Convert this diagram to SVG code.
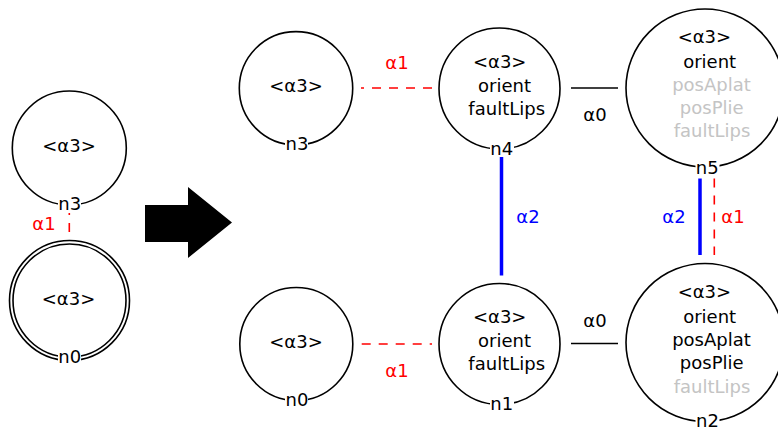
<svg xmlns="http://www.w3.org/2000/svg" width="778" height="430" viewBox="0 0 778 430">
<style>
text{font-family:"DejaVu Sans","Liberation Sans",sans-serif;font-size:18px;text-anchor:middle;fill:#000}
.c{fill:none;stroke:#000;stroke-width:1.6}
.g{fill:#c4c4c4}
.r{fill:#ff0000}
.b{fill:#0000ff}
.lb{fill:#fff}
.e0{stroke:#000;stroke-width:1.6;fill:none}
.e1{stroke:#ff0000;stroke-width:1.6;stroke-dasharray:9 8;fill:none}
.e2{stroke:#0000ff;stroke-width:3.5;fill:none}
</style>
<rect width="778" height="430" fill="#fff"/>
<polygon points="145,205 188,205 188,187 232,222.5 188,258 188,242 145,242" fill="#000"/>
<g id="connectors">
<line class="e1" x1="69.3" y1="232" x2="69.3" y2="213"/>
<text class="r" x="44" y="230">α1</text>
<line class="e1" x1="432" y1="88" x2="361" y2="88"/>
<text class="r" x="397" y="69">α1</text>
<line class="e1" x1="361.7" y1="344" x2="432" y2="344"/>
<text class="r" x="397" y="377">α1</text>
<line class="e2" x1="501.5" y1="157" x2="501.5" y2="275.5"/>
<text class="b" x="528" y="223">α2</text>
<line class="e0" x1="571" y1="88" x2="618" y2="88"/>
<text x="595" y="121">α0</text>
<line class="e0" x1="571" y1="343.5" x2="618" y2="343.5"/>
<text x="595" y="327">α0</text>
<line class="e2" x1="700" y1="178.5" x2="700" y2="255"/>
<text class="b" x="674" y="223">α2</text>
<line class="e1" x1="714.3" y1="178.5" x2="714.3" y2="255"/>
<text class="r" x="733" y="223">α1</text>
</g>
<g id="L_n3">
<circle class="c" cx="69.3" cy="148" r="57"/>
<text x="69" y="152">&lt;α3&gt;</text>
<rect class="lb" x="58" y="197" width="23" height="13"/>
<text x="69.7" y="209.5">n3</text>
</g>
<g id="L_n0">
<circle class="c" cx="69.5" cy="300.5" r="60"/>
<circle class="c" cx="69.5" cy="300.5" r="56.5"/>
<text x="68.5" y="305">&lt;α3&gt;</text>
<rect class="lb" x="58" y="351" width="23" height="13"/>
<text x="69.7" y="363">n0</text>
</g>
<g id="n3">
<circle class="c" cx="296" cy="88.3" r="56.7"/>
<text x="296" y="92">&lt;α3&gt;</text>
<rect class="lb" x="285" y="138" width="23" height="13"/>
<text x="297" y="150">n3</text>
</g>
<g id="n0">
<circle class="c" cx="296.3" cy="344" r="56.5"/>
<text x="296" y="348">&lt;α3&gt;</text>
<rect class="lb" x="285" y="394" width="23" height="13"/>
<text x="297" y="406">n0</text>
</g>
<g id="n4">
<circle class="c" cx="499.5" cy="88.5" r="60.5"/>
<text x="499.7" y="68">&lt;α3&gt;</text>
<text x="504.5" y="92">orient</text>
<text x="506.7" y="115">faultLips</text>
<rect class="lb" x="490" y="143" width="24" height="13"/>
<text x="501.8" y="155">n4</text>
</g>
<g id="n1">
<circle class="c" cx="499.5" cy="344" r="60.5"/>
<text x="499.7" y="323">&lt;α3&gt;</text>
<text x="504.5" y="347">orient</text>
<text x="506.7" y="370">faultLips</text>
<rect class="lb" x="490" y="398" width="24" height="13"/>
<text x="501.8" y="410">n1</text>
</g>
<g id="n5">
<circle class="c" cx="705" cy="88" r="79"/>
<text x="704.4" y="43">&lt;α3&gt;</text>
<text x="709.7" y="67.5">orient</text>
<text class="g" x="711.5" y="91">posAplat</text>
<text class="g" x="711.7" y="114">posPlie</text>
<text class="g" x="712" y="137">faultLips</text>
<rect class="lb" x="695.5" y="162" width="24" height="13"/>
<text x="707.3" y="174">n5</text>
</g>
<g id="n2">
<circle class="c" cx="705" cy="342.5" r="79"/>
<text x="704.4" y="298">&lt;α3&gt;</text>
<text x="709.7" y="322.5">orient</text>
<text x="711.5" y="346">posAplat</text>
<text x="711.7" y="369">posPlie</text>
<text class="g" x="712" y="393">faultLips</text>
<rect class="lb" x="695.5" y="414" width="24" height="13"/>
<text x="707.5" y="426.5">n2</text>
</g>
</svg>
